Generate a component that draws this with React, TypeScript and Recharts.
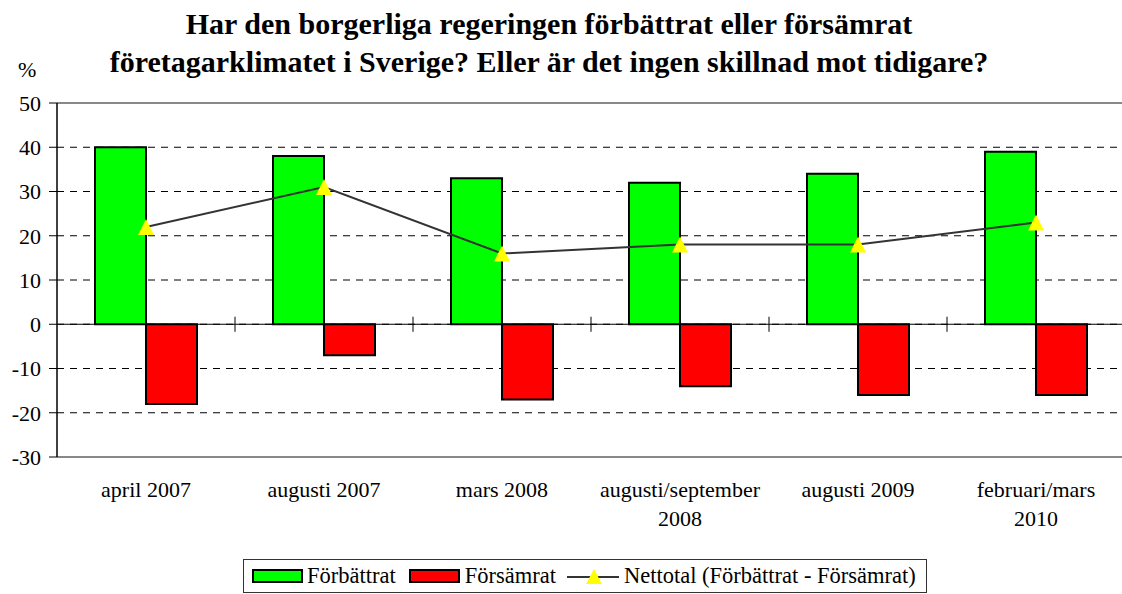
import React from 'react';
import {
  ComposedChart,
  Bar,
  Line,
  XAxis,
  YAxis,
  CartesianGrid,
  ReferenceLine,
  Legend,
} from 'recharts';

const categories = [
  'april 2007',
  'augusti 2007',
  'mars 2008',
  'augusti/september 2008',
  'augusti 2009',
  'februari/mars 2010',
];
const forbattrat = [40, 38, 33, 32, 34, 39];
const forsamrat = [-18, -7, -17, -14, -16, -16];
const nettotal = [22, 31, 16, 18, 18, 23];
const yTicks = [-30, -20, -10, 0, 10, 20, 30, 40, 50];

const titleLines = [
  'Har den borgerliga regeringen förbättrat eller försämrat',
  'företagarklimatet i Sverige? Eller är det ingen skillnad mot tidigare?',
];

const FONT = "'Liberation Serif', 'Times New Roman', serif";

const data = categories.map((c, i) => ({
  name: c,
  pos: i + 0.5,
  forbattrat: forbattrat[i],
  forsamrat: forsamrat[i],
  nettotal: nettotal[i],
}));

// category boundaries for the small tick marks crossing the zero line
const boundaries = categories.slice(1).map((_, i) => i + 1);

function splitLabel(label: string): string[] {
  if (label.includes('/')) {
    const idx = label.lastIndexOf(' ');
    return [label.slice(0, idx), label.slice(idx + 1)];
  }
  return [label];
}

const CategoryTick = (props: any) => {
  const { x, y, payload } = props;
  const lines = splitLabel(payload.value);
  return (
    <g>
      {lines.map((l, i) => (
        <text
          key={i}
          x={x}
          y={y + 40 + i * 29}
          textAnchor="middle"
          fontSize={22}
          fontFamily={FONT}
          fill="#000"
        >
          {l}
        </text>
      ))}
    </g>
  );
};

const Triangle = (props: any) => {
  const { cx, cy } = props;
  if (cx == null || cy == null) return null;
  return <polygon points={`${cx},${cy - 8} ${cx - 8},${cy + 8} ${cx + 8},${cy + 8}`} fill="#ffff00" />;
};

const swatch = (color: string) => ({
  display: 'inline-block',
  width: 47,
  height: 10,
  background: color,
  border: '2px solid #000',
});

const LegendContent = () => (
  <div
    style={{
      display: 'flex',
      alignItems: 'center',
      border: '1px solid #333',
      height: 34,
      boxSizing: 'border-box',
      padding: '0 10px 0 8px',
      fontFamily: FONT,
      fontSize: 22.5,
      color: '#000',
      whiteSpace: 'nowrap',
      background: '#fff',
    }}
  >
    <span style={{ ...swatch('#00ff00'), marginRight: 4 }} />
    <span style={{ marginRight: 13 }}>Förbättrat</span>
    <span style={{ ...swatch('#ff0000'), marginRight: 5 }} />
    <span style={{ marginRight: 11 }}>Försämrat</span>
    <svg width={52} height={20} style={{ marginRight: 5 }}>
      <line x1={0} y1={11} x2={52} y2={11} stroke="#333" strokeWidth={2} />
      <polygon points="27,3 19,18 35,18" fill="#ffff00" />
    </svg>
    <span>Nettotal (Förbättrat - Försämrat)</span>
  </div>
);

export default function App() {
  return (
    <div style={{ position: 'absolute', left: 0, top: 0, width: 1122, height: 594, overflow: 'hidden', background: '#fff' }}>
      <div
        style={{
          position: 'absolute',
          left: 0,
          top: 5,
          width: 1098,
          textAlign: 'center',
          fontFamily: FONT,
          fontWeight: 'bold',
          fontSize: 30,
          lineHeight: '38px',
          color: '#000',
        }}
      >
        {titleLines.map((t, i) => (
          <div key={i}>{t}</div>
        ))}
      </div>
      <div style={{ position: 'absolute', left: 18, top: 57, fontFamily: FONT, fontSize: 22, color: '#000' }}>%</div>
      <ComposedChart
        width={1130}
        height={594}
        data={data}
        margin={{ top: 103, right: 5, bottom: 0, left: 0 }}
        barCategoryGap={38}
        barGap={0}
        style={{ fontFamily: FONT }}
      >
        <CartesianGrid horizontal vertical={false} stroke="#000" strokeDasharray="7 6" />
        <XAxis
          dataKey="name"
          height={137}
          axisLine={false}
          tickLine={false}
          tick={<CategoryTick />}
          interval={0}
          tickMargin={0}
          tickSize={0}
        />
        <XAxis
          xAxisId="n"
          dataKey="pos"
          type="number"
          domain={[0, categories.length]}
          hide
          allowDataOverflow
        />
        <YAxis
          domain={[-30, 50]}
          ticks={yTicks}
          width={57}
          interval={0}
          axisLine={{ stroke: '#000', strokeWidth: 1.5 }}
          tickLine={{ stroke: '#000' }}
          tickSize={8}
          tickMargin={8}
          tick={{ fontSize: 22, fontFamily: FONT, fill: '#000' }}
        />
        <ReferenceLine y={50} stroke="#888" strokeWidth={2} />
        <ReferenceLine y={-30} stroke="#888" strokeWidth={2} />
        <ReferenceLine y={0} stroke="#000" strokeWidth={1} />
        {boundaries.map((b) => (
          <ReferenceLine
            key={b}
            xAxisId="n"
            segment={[
              { x: b, y: -1.7 },
              { x: b, y: 1.7 },
            ]}
            stroke="#000"
            strokeWidth={1}
          />
        ))}
        <Bar dataKey="forbattrat" fill="#00ff00" stroke="#000" strokeWidth={2} isAnimationActive={false} />
        <Bar dataKey="forsamrat" fill="#ff0000" stroke="#000" strokeWidth={2} isAnimationActive={false} />
        <Line
          dataKey="nettotal"
          stroke="#333"
          strokeWidth={2}
          dot={<Triangle />}
          activeDot={false}
          isAnimationActive={false}
        />
        <Legend
          verticalAlign="middle"
          align="center"
          content={<LegendContent />}
          wrapperStyle={{ left: 243, top: 559, width: 'auto', height: 34 }}
        />
      </ComposedChart>
    </div>
  );
}
